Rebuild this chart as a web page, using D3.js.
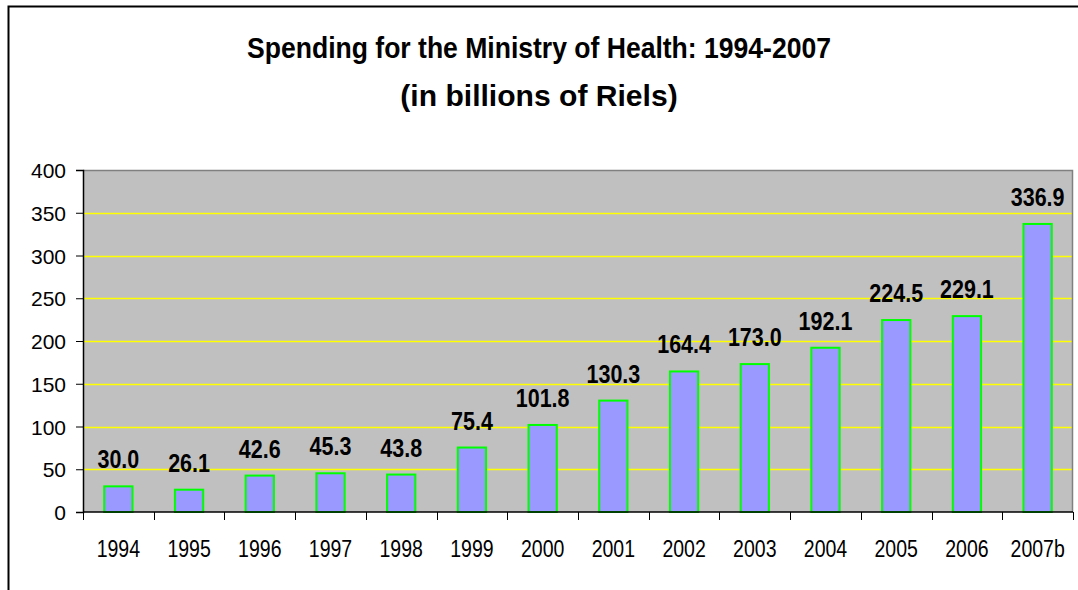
<!DOCTYPE html>
<html>
<head>
<meta charset="utf-8">
<script src="https://cdn.jsdelivr.net/npm/d3@7/dist/d3.min.js"></script>
<style>
  html, body { margin: 0; padding: 0; background: #fff; }
  svg { display: block; font-family: Arial, "Liberation Sans", sans-serif; }
</style>
</head>
<body>
<svg id="chart" width="1078" height="590"></svg>
<script>
// Ministry of Health spending, billions of Riels
const years = ["1994", "1995", "1996", "1997", "1998", "1999", "2000",
               "2001", "2002", "2003", "2004", "2005", "2006", "2007b"];
const spending = [30.0, 26.1, 42.6, 45.3, 43.8, 75.4, 101.8,
                  130.3, 164.4, 173.0, 192.1, 224.5, 229.1, 336.9];
const yTicks = [0, 50, 100, 150, 200, 250, 300, 350, 400];
const titleLines = ["Spending for the Ministry of Health: 1994-2007",
                    "(in billions of Riels)"];

const svg = d3.select("#chart");
const W = 1078, H = 590;
const FONT = "Arial, 'Liberation Sans', sans-serif";
const STRETCH = 1.22; // tall, narrow glyphs for axis and value labels

// outer frame
svg.append("rect")
  .attr("x", 8.5).attr("y", 6.5)
  .attr("width", W + 20).attr("height", H + 20)
  .attr("fill", "#fff").attr("stroke", "#000").attr("stroke-width", 2);

const plot = { left: 83, right: 1073, top: 170, bottom: 512 };

const x = d3.scaleBand().domain(years)
  .range([plot.left, plot.right]).paddingInner(0.6).paddingOuter(0.3);
const y = d3.scaleLinear().domain([0, 400]).range([plot.bottom, plot.top]);

// title: both lines share the same glyph height, first line set narrower
const titleY = [58, 106], titleScaleX = [0.9, 1.02];
svg.append("g").selectAll("text").data(titleLines).join("text")
  .attr("transform", (d, i) => `translate(539,${titleY[i]}) scale(${titleScaleX[i]},1)`)
  .attr("text-anchor", "middle")
  .attr("font-size", 29.5).attr("font-weight", "bold")
  .attr("fill", "#000")
  .text(d => d);

// plot background
svg.append("rect")
  .attr("x", plot.left).attr("y", plot.top)
  .attr("width", plot.right - plot.left).attr("height", plot.bottom - plot.top)
  .attr("fill", "#c0c0c0");

// gridlines
svg.append("g").selectAll("line").data(yTicks.filter(t => t > 0 && t < 400)).join("line")
  .attr("x1", plot.left).attr("x2", plot.right)
  .attr("y1", d => Math.round(y(d)) + 0.5).attr("y2", d => Math.round(y(d)) + 0.5)
  .attr("stroke", "#ffff00").attr("stroke-width", 1.5);

// plot border top/right
svg.append("path")
  .attr("d", `M${plot.left},${plot.top + 0.5}H${plot.right - 0.5}V${plot.bottom}`)
  .attr("fill", "none").attr("stroke", "#808080").attr("stroke-width", 1.5);

// bars
svg.append("g").selectAll("rect").data(spending).join("rect")
  .attr("x", (d, i) => x(years[i]))
  .attr("y", d => y(d))
  .attr("width", x.bandwidth())
  .attr("height", d => y(0) - y(d))
  .attr("fill", "#9999ff")
  .attr("stroke", "#00ff00").attr("stroke-width", 2);

// value labels
svg.append("g").selectAll("text").data(spending).join("text")
  .attr("transform", (d, i) =>
    `translate(${x(years[i]) + x.bandwidth() / 2},${y(d) - 18}) scale(1,${STRETCH})`)
  .attr("text-anchor", "middle")
  .attr("font-size", 21.5).attr("font-weight", "bold")
  .text(d => d.toFixed(1));

// y axis
const yAxis = svg.append("g")
  .attr("transform", `translate(${plot.left},0)`)
  .call(d3.axisLeft(y).tickValues(yTicks).tickSize(7).tickPadding(10));
yAxis.select(".domain").attr("stroke", "#000").attr("stroke-width", 1.5);
yAxis.selectAll(".tick line").attr("stroke", "#000");
yAxis.selectAll("text")
  .attr("font-size", 21).attr("font-family", FONT).attr("fill", "#000")
  .attr("dy", "0.36em");

// x axis: ticks at category boundaries
const xAxis = svg.append("g");
xAxis.append("line")
  .attr("x1", plot.left).attr("x2", plot.right)
  .attr("y1", plot.bottom).attr("y2", plot.bottom)
  .attr("stroke", "#000").attr("stroke-width", 1.5);
const boundaries = d3.range(years.length + 1)
  .map(i => plot.left + i * (plot.right - plot.left) / years.length);
xAxis.selectAll("line.tick").data(boundaries).join("line")
  .attr("class", "tick")
  .attr("x1", d => Math.round(d) + 0.5).attr("x2", d => Math.round(d) + 0.5)
  .attr("y1", plot.bottom).attr("y2", plot.bottom + 8)
  .attr("stroke", "#000").attr("stroke-width", 1);
xAxis.selectAll("text").data(years).join("text")
  .attr("transform", d => `translate(${x(d) + x.bandwidth() / 2},557) scale(1,${STRETCH})`)
  .attr("text-anchor", "middle")
  .attr("font-size", 19.5)
  .text(d => d);
</script>
</body>
</html>
